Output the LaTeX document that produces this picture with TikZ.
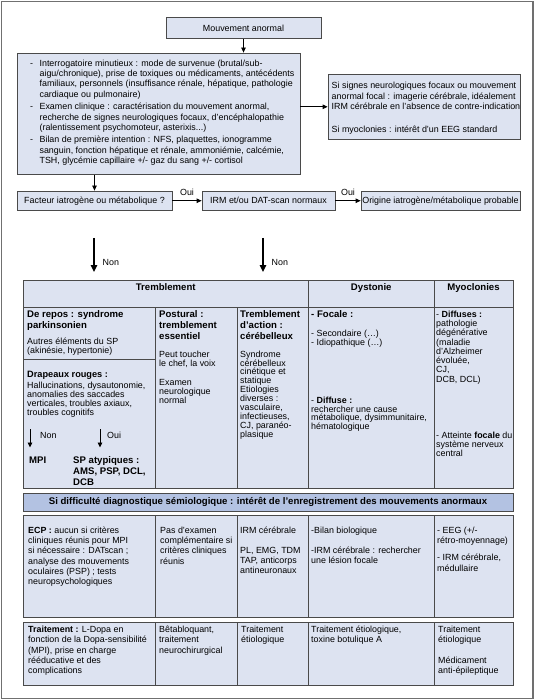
\documentclass[tikz,border=0pt]{standalone}
\usepackage{fontspec}
\setmainfont{Liberation Sans}
\usetikzlibrary{arrows.meta}
\definecolor{boxfill}{HTML}{DDE3F1}
\definecolor{bandfill}{HTML}{B3C2E2}
\definecolor{linec}{HTML}{4A4A4A}
\definecolor{framec}{HTML}{707070}
\newcommand{\FontBox}{\fontsize{8.9}{10.2}\selectfont}
\newcommand{\FontFocal}{\fontsize{8.9}{10.6}\selectfont}
\newcommand{\FontHead}{\fontsize{9.6}{11.2}\selectfont\bfseries}
\newcommand{\FontTab}{\fontsize{8.9}{8.9}\selectfont}
\newcommand{\FontTabB}{\fontsize{8.9}{9.3}\selectfont}
\newcommand{\FontCell}{\fontsize{8.9}{10.3}\selectfont}
\newcommand{\FontTre}{\fontsize{8.9}{10.1}\selectfont}
\newcommand{\cellbox}[1]{\parbox[t]{300pt}{#1}}
\newcommand{\itemdash}{\hangindent=9.4pt\hangafter=1\makebox[9.4pt][l]{-}}
\begin{document}
\begin{tikzpicture}[x=1pt,y=-1pt,
  box/.style={draw=linec, fill=boxfill, line width=0.8pt, inner sep=0pt},
  arr/.style={draw=black, line width=0.8pt, -{Triangle[length=5pt,width=4.5pt]}},
  bigarr/.style={draw=black, line width=1.3pt, -{Triangle[length=7pt,width=6.5pt]}},
  tl/.style={draw=linec, line width=0.9pt},
  txt/.style={anchor=base west, inner sep=0pt},
  lbl/.style={anchor=west, inner sep=0pt, font=\FontBox},
]
\useasboundingbox (0,0) rectangle (537,700);
\draw[framec, line width=1.3pt] (1.5,1.5) rectangle (533,698.5);

% ---------- upper flow ----------
\node[box, minimum width=155pt, minimum height=21.7pt, font=\FontBox] (start) at (243.5,27.85) {Mouvement anormal};
\node[box, minimum width=283pt, minimum height=121.5pt] (bilan) at (158.5,113.75) {};
\node[txt] (bilantxt) at (30,66.6) {\cellbox{\FontBox
\itemdash Interrogatoire minutieux : mode de survenue (brutal/sub-\\aigu/chronique), prise de toxiques ou médicaments, antécédents\\familiaux, personnels (insuffisance rénale, hépatique, pathologie\\cardiaque ou pulmonaire)\par\vspace{2.5pt}
\itemdash Examen clinique : caractérisation du mouvement anormal,\\recherche de signes neurologiques focaux, d’encéphalopathie\\(ralentissement psychomoteur, asterixis...)\par\vspace{2.5pt}
\itemdash Bilan de première intention : NFS, plaquettes, ionogramme\\sanguin, fonction hépatique et rénale, ammoniémie, calcémie,\\TSH, glycémie capillaire +/- gaz du sang +/- cortisol}};

\node[box, minimum width=192pt, minimum height=65.6pt] (focal) at (424,106.8) {};
\node[txt] (focaltxt) at (331.5,88.7) {\cellbox{\FontFocal Si signes neurologiques focaux ou mouvement\\anormal focal : imagerie cérébrale, idéalement\\IRM cérébrale en l’absence de contre-indication\\[12.5pt]Si myoclonies : intérêt d’un EEG standard}};

\node[box, minimum width=155pt, minimum height=19.5pt, font=\FontBox] (fact) at (94.5,200.75) {Facteur iatrogène ou métabolique ?};
\node[box, minimum width=133pt, minimum height=19.5pt, font=\FontBox] (irm) at (268.5,200.75) {IRM et/ou DAT-scan normaux};
\node[box, minimum width=159pt, minimum height=19.5pt, font=\FontBox] (orig) at (440.5,200.75) {Origine iatrogène/métabolique probable};

\draw[arr] (start.south) -- (start.south |- bilan.north);
\draw[arr] (bilan.east |- focal.west) -- (focal.west);
\draw[arr] (fact.north |- bilan.south) -- (fact.north);
\draw[arr] (fact) -- (irm) node[midway, above=1pt, font=\FontBox] (oui1) {Oui};
\draw[arr] (irm) -- (orig) node[midway, above=1pt, font=\FontBox] (oui2) {Oui};

\coordinate (n1s) at (94,238);
\coordinate (n1e) at (94,272);
\coordinate (n2s) at (263,238);
\coordinate (n2e) at (263,272);
\draw[bigarr] (n1s) -- (n1e);
\draw[bigarr] (n2s) -- (n2e);
\node[lbl] (non1) at (102.5,262) {Non};
\node[lbl] (non2) at (271.5,262) {Non};

% ---------- table 1 ----------
\fill[boxfill] (23,280.5) rectangle (513,488);
\draw[tl] (23,280.5) rectangle (513,488);
\draw[tl] (23,307.5) -- (513,307.5);
\draw[tl] (155,307.5) -- (155,488);
\draw[tl] (237.5,307.5) -- (237.5,488);
\draw[tl] (308.5,280.5) -- (308.5,488);
\draw[tl] (434,280.5) -- (434,488);
\draw[tl] (23,359) -- (155,359);

\node[anchor=base, inner sep=0pt, font=\FontHead] (hT) at (165.75,290.3) {Tremblement};
\node[anchor=base, inner sep=0pt, font=\FontHead] (hD) at (371.25,290.3) {Dystonie};
\node[anchor=base, inner sep=0pt, font=\FontHead] (hM) at (473.5,290.3) {Myoclonies};

\node[txt] (c1a) at (27,317.4) {\cellbox{\FontHead De repos : syndrome\\parkinsonien}};
\node[txt] (c1b) at (27,344.1) {\cellbox{\FontTab Autres éléments du SP\\(akinésie, hypertonie)}};
\node[txt] (c1c) at (27,377) {\cellbox{\fontsize{9.2}{10}\selectfont\bfseries Drapeaux rouges :}};
\node[txt] (c1d) at (27,388.8) {\cellbox{\FontTab Hallucinations, dysautonomie,\\anomalies des saccades\\verticales, troubles axiaux,\\troubles cognitifs}};
\coordinate (a1s) at (30,429);
\coordinate (a1e) at (30,447.5);
\coordinate (a2s) at (100,429);
\coordinate (a2e) at (100,447.5);
\draw[arr, line width=0.9pt] (a1s) -- (a1e);
\draw[arr, line width=0.9pt] (a2s) -- (a2e);
\node[lbl] (tnon) at (40,435) {Non};
\node[lbl] (toui) at (107,435) {Oui};
\node[txt] (mpi) at (29,463.4) {\cellbox{\FontHead MPI}};
\node[txt] (spa) at (73,463.4) {\cellbox{\FontHead SP atypiques :\\AMS, PSP, DCL,\\DCB}};

\node[txt] (c2a) at (159,317.4) {\cellbox{\FontHead Postural :\\tremblement\\essentiel}};
\node[txt] (c2b) at (159,357.1) {\cellbox{\FontTab Peut toucher\\le chef, la voix}};
\node[txt] (c2c) at (159,385.6) {\cellbox{\FontTab Examen\\neurologique\\normal}};

\node[txt] (c3a) at (240,317.4) {\cellbox{\FontHead Tremblement\\d’action :\\cérébelleux}};
\node[txt] (c3b) at (240,357.1) {\cellbox{\FontTab Syndrome\\cérébelleux\\cinétique et\\statique\\Etiologies\\diverses :\\vasculaire,\\infectieuses,\\CJ, paranéo-\\plasique}};

\node[txt] (c4a) at (311,317.4) {\cellbox{\FontHead - Focale :}};
\node[txt] (c4b) at (311,336.5) {\cellbox{\FontTab - Secondaire (…)\\- Idiopathique (…)}};
\node[txt] (c4c) at (311,403.1) {\cellbox{\FontTab - \textbf{Diffuse :}\\rechercher une cause\\métabolique, dysimmunitaire,\\hématologique}};

\node[txt] (c5a) at (436,317.1) {\cellbox{\FontTabB - \textbf{Diffuses :}\\pathologie\\dégénérative\\(maladie\\d’Alzheimer\\évoluée,\\CJ,\\DCB, DCL)}};
\node[txt] (c5b) at (436,438.6) {\cellbox{\FontTab - Atteinte \textbf{focale} du\\système nerveux\\central}};

% ---------- band ----------
\node[draw=linec, fill=bandfill, line width=0.9pt, minimum width=490pt, minimum height=18pt, inner sep=0pt, font=\FontHead] (band) at (268,502) {Si difficulté diagnostique sémiologique : intérêt de l’enregistrement des mouvements anormaux};

% ---------- table 2 ----------
\fill[boxfill] (23,515) rectangle (513,617);
\draw[tl] (23,515) rectangle (513,617);
\draw[tl] (155,515) -- (155,617);
\draw[tl] (237.5,515) -- (237.5,617);
\draw[tl] (308.5,515) -- (308.5,617);
\draw[tl] (434,515) -- (434,617);

\node[txt] (d1) at (28,533.1) {\cellbox{\FontCell\textbf{ECP :} aucun si critères\\cliniques réunis pour MPI\\si nécessaire : DATscan ;\\analyse des mouvements\\oculaires (PSP) ; tests\\neuropsychologiques}};
\node[txt] (d2) at (160,533.1) {\cellbox{\FontCell Pas d’examen\\complémentaire si\\critères cliniques\\réunis}};
\node[txt] (d3) at (240,533.1) {\cellbox{\FontCell IRM cérébrale\\[9.7pt]PL, EMG, TDM\\TAP, anticorps\\antineuronaux}};
\node[txt] (d4) at (311,533.1) {\cellbox{\FontCell -Bilan biologique\\[9.7pt]-IRM cérébrale : rechercher\\une lésion focale}};
\node[txt] (d5) at (437,533.1) {\cellbox{\FontCell - EEG (+/-\\rétro-moyennage)\\[7pt]- IRM cérébrale,\\médullaire}};

% ---------- table 3 ----------
\fill[boxfill] (23,622) rectangle (513,685);
\draw[tl] (23,622) rectangle (513,685);
\draw[tl] (155,622) -- (155,685);
\draw[tl] (237.5,622) -- (237.5,685);
\draw[tl] (308.5,622) -- (308.5,685);
\draw[tl] (434,622) -- (434,685);

\node[txt] (e1) at (28,632.8) {\cellbox{\FontTre\textbf{Traitement :} L-Dopa en\\fonction de la Dopa-sensibilité\\(MPI), prise en charge\\rééducative et des\\complications}};
\node[txt] (e2) at (159,632.8) {\cellbox{\FontTre Bêtabloquant,\\traitement\\neurochirurgical}};
\node[txt] (e3) at (241,632.8) {\cellbox{\FontTre Traitement\\étiologique}};
\node[txt] (e4) at (311,632.8) {\cellbox{\FontTre Traitement étiologique,\\toxine botulique A}};
\node[txt] (e5) at (438,632.8) {\cellbox{\FontTre Traitement\\étiologique\\[10.1pt]Médicament\\anti-épileptique}};
\end{tikzpicture}
\end{document}
